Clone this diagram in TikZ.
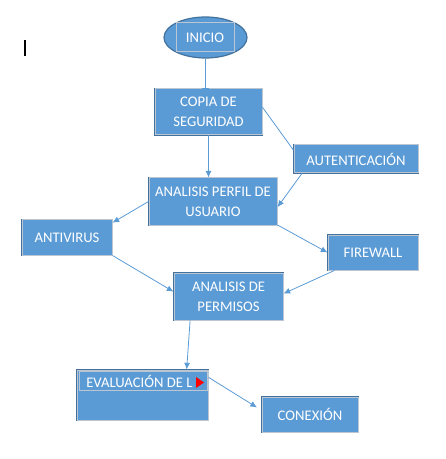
\documentclass[tikz,border=0pt]{standalone}
\usepackage{fontspec}
\setmainfont{Carlito}
\usetikzlibrary{shapes.geometric, arrows.meta}
\definecolor{cajaazul}{HTML}{5B9BD5}
\definecolor{cajaborde}{HTML}{41719C}
\definecolor{cajamarco}{HTML}{BCC6D3}

\begin{document}
\begin{tikzpicture}[x=0.75pt, y=-0.75pt, font=\fontsize{11}{15}\selectfont,
    caja/.style={rectangle, fill=cajaazul, draw=cajamarco, line width=0.75pt,
        preaction={draw=cajaborde, line width=2.1pt}, text=white, align=center, inner sep=0pt},
    flecha/.style={draw=cajaazul, line width=0.6pt, ->, >={Latex[length=5pt, width=4.5pt]}}]
    \useasboundingbox (0,0) rectangle (445,459);
    \draw [line width=1.5pt](25,40) -- (25,56);
    \node [ellipse, fill=cajaazul, draw=cajaborde, line width=0.9pt, minimum width=62.25pt,
        minimum height=30.75pt, inner sep=0pt] (inicio) at (205.5,37.5) {};
    \node [draw=cajamarco, line width=0.75pt, minimum width=43.5pt, minimum height=21.75pt,
        text=white, inner sep=0pt] (iniciotxt) at (205,37.5) {INICIO};
    \node [caja, minimum width=80.25pt, minimum height=34.5pt] (copia) at (208.5,112) {COPIA DE\\SEGURIDAD};
    \node [caja, minimum width=93pt, minimum height=21pt] (autent) at (356,159) {AUTENTICACIÓN};
    \node [caja, minimum width=96pt, minimum height=35.25pt] (perfil) at (213,201.5) {ANALISIS PERFIL DE\\USUARIO};
    \node [caja, minimum width=67.5pt, minimum height=26.25pt] (antivirus) at (67,237.5) {ANTIVIRUS};
    \node [caja, minimum width=67.5pt, minimum height=26.25pt] (firewall) at (373,252.5) {FIREWALL};
    \node [caja, minimum width=81.75pt, minimum height=35.25pt] (permisos) at (228.5,296.5) {ANALISIS DE\\PERMISOS};
    \node [caja, minimum width=98.25pt, minimum height=37.5pt] (evaluacion) at (142.5,395) {};
    \node [draw=cajamarco, line width=0.75pt, minimum width=96pt, minimum height=14.25pt,
        inner sep=0pt] (evaluacionbarra) at (143,380.5) {};
    \node [anchor=west, text=white, inner sep=0pt] (evaluaciontxt) at (86,381) {EVALUACIÓN DE L};
    \fill [red](196,377) -- (196,388) -- (204,382.5) -- cycle;
    \node [caja, minimum width=72pt, minimum height=26.25pt] (conexion) at (310,414.5) {CONEXIÓN};
    % conectores
    \draw [flecha, -|](inicio.south) -- (copia.north -| inicio.south);
    \draw [flecha](copia.south) -- (perfil.north -| copia.south);
    \draw [flecha, -](copia.5) -- (autent.172);
    \draw [flecha](autent.195) -- (perfil.355);
    \draw [flecha](perfil.west) -- (antivirus.18);
    \draw [flecha](perfil.-20) -- (firewall.west);
    \draw [flecha](antivirus.south east) -- (permisos.175);
    \draw [flecha](firewall.205) -- (permisos.3);
    \draw [flecha](permisos.212) -- (evaluacion.30);
    \draw [flecha, shorten >=4pt](evaluacion.15) -- (conexion.175);
\end{tikzpicture}
\end{document}
